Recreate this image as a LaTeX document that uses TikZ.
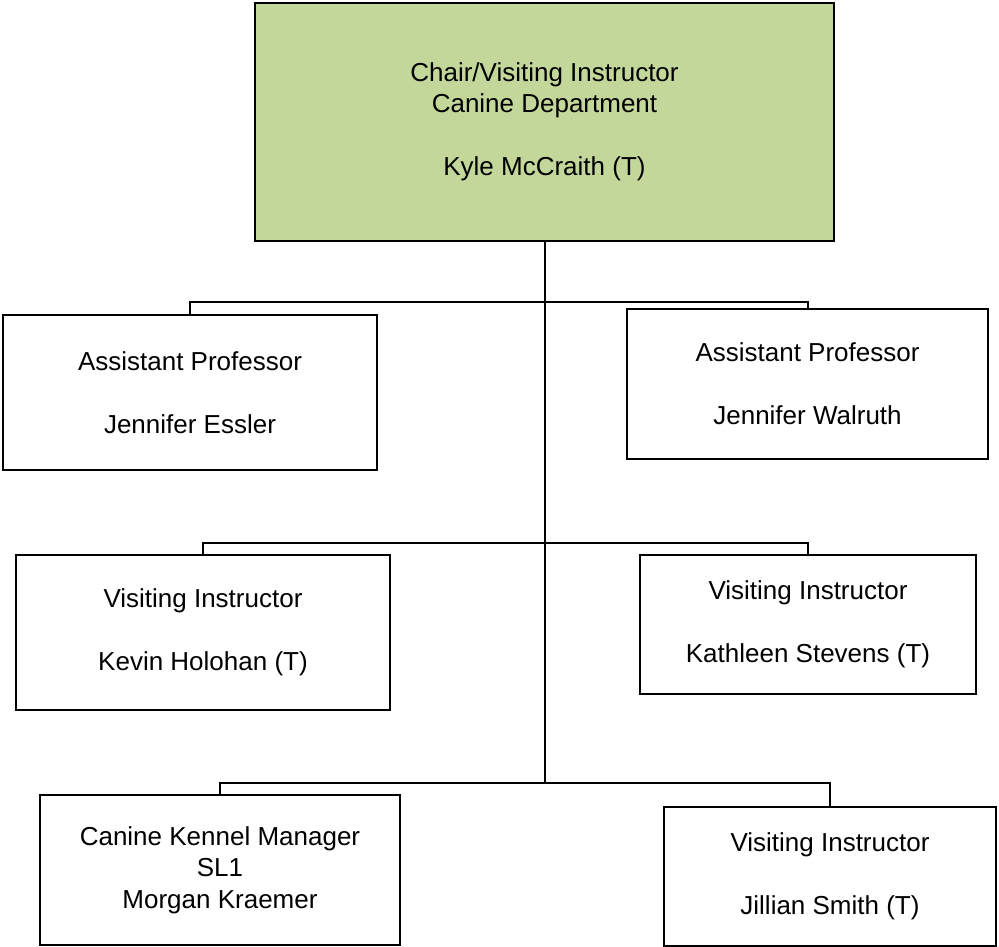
\documentclass[tikz,border=0pt]{standalone}
\usepackage{fontspec}
\setmainfont{Liberation Sans}

\definecolor{chairgreen}{RGB}{196,215,155}

\tikzset{
  orgbox/.style={draw=black, line width=2pt, rectangle, inner sep=0pt, align=center,
    font=\fontsize{26}{31.5}\selectfont},
  chairbox/.style={orgbox, fill=chairgreen},
  link/.style={draw=black, line width=2pt}
}

\begin{document}
\begin{tikzpicture}[x=1pt,y=-1pt]
\useasboundingbox (0,0) rectangle (999,947);

%Chair
\node[chairbox, minimum width=579pt, minimum height=238pt] (chair) at (544.5,122)
  {Chair/Visiting Instructor\\Canine Department\\[31.5pt]Kyle McCraith (T)};

%Assistant professors
\node[orgbox, minimum width=374pt, minimum height=155pt] (essler) at (190,392.5)
  {Assistant Professor\\[31.5pt]Jennifer Essler};
\node[orgbox, minimum width=361pt, minimum height=150pt] (walruth) at (807.5,384)
  {Assistant Professor\\[31.5pt]Jennifer Walruth};

%Visiting instructors
\node[orgbox, minimum width=374pt, minimum height=155pt] (holohan) at (203,632.5)
  {Visiting Instructor\\[31.5pt]Kevin Holohan (T)};
\node[orgbox, minimum width=336pt, minimum height=139pt] (stevens) at (808,624.5)
  {Visiting Instructor\\[31.5pt]Kathleen Stevens (T)};

%Kennel and last instructor
\node[orgbox, minimum width=360pt, minimum height=150pt] (kraemer) at (220,870)
  {Canine Kennel Manager\\SL1\\Morgan Kraemer};
\node[orgbox, minimum width=332pt, minimum height=139pt] (smith) at (830,876.5)
  {Visiting Instructor\\[31.5pt]Jillian Smith (T)};

%bus points on the trunk
\coordinate (busA) at (544.5,302);
\coordinate (busB) at (544.5,543);
\coordinate (busC) at (544.5,783);

\draw[link]
%trunk
(chair.south) -- (busC)
%row 1
(busA) -| (essler.north)
(busA) -| (walruth.north)
%row 2
(busB) -| (holohan.north)
(busB) -| (stevens.north)
%row 3
(busC) -| (kraemer.north)
(busC) -| (smith.north)
;
\end{tikzpicture}
\end{document}
